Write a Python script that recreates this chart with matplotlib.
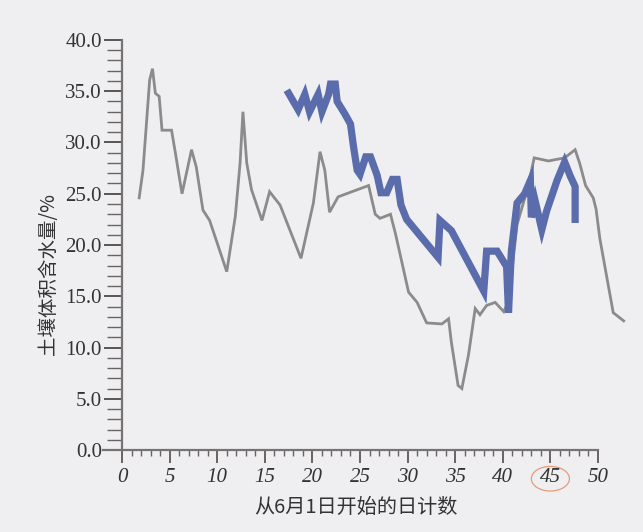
import matplotlib.pyplot as plt
from matplotlib.ticker import FixedLocator
from matplotlib.patches import Ellipse

# days counted from June 1 and soil water content (%)
gray_day = [1.8, 2.2, 2.4, 2.9, 3.2, 3.5, 3.9, 4.2, 5.2, 5.6, 6.3, 7.3, 7.8, 8.5,
            9.2, 11.0, 11.9, 12.4, 12.7, 13.1, 13.6, 14.7, 15.5, 16.6, 18.8, 20.1,
            20.8, 21.3, 21.8, 22.7, 25.9, 26.6, 27.1, 28.2, 28.7, 29.5, 30.1, 31.0,
            32.0, 33.6, 34.3, 34.6, 35.3, 35.7, 36.4, 37.1, 37.6, 38.3, 39.2, 40.1,
            40.6, 41.5, 42.6, 43.3, 44.8, 46.5, 47.6, 48.1, 48.7, 49.5, 49.8, 50.2,
            51.6, 52.7]
gray_val = [24.6, 27.3, 29.8, 36.1, 37.2, 34.8, 34.5, 31.2, 31.2, 29.0, 25.0, 29.3,
            27.6, 23.4, 22.4, 17.4, 22.8, 28.0, 33.0, 28.0, 25.4, 22.4, 25.2, 23.9,
            18.7, 24.1, 29.1, 27.3, 23.2, 24.7, 25.8, 23.0, 22.6, 23.0, 21.2, 17.9,
            15.4, 14.4, 12.4, 12.3, 12.8, 10.5, 6.3, 6.0, 9.3, 13.8, 13.2, 14.1,
            14.4, 13.5, 14.5, 22.0, 25.5, 28.5, 28.2, 28.5, 29.3, 27.9, 25.8, 24.6,
            23.5, 20.6, 13.4, 12.6]

blue_day = [17.5, 18.5, 19.2, 19.7, 20.6, 21.0, 21.7, 21.9, 22.4, 22.6, 23.4, 24.0,
            24.3, 24.7, 25.0, 25.6, 26.1, 26.8, 27.2, 27.8, 28.4, 28.9, 29.3, 29.9,
            33.2, 33.4, 34.6, 38.0, 38.3, 39.4, 40.4, 40.6, 40.9, 41.5, 42.3, 42.9,
            43.0, 43.4, 44.1, 44.6, 45.7, 46.5, 47.1, 47.6, 47.6]
blue_val = [34.8, 33.2, 34.7, 33.0, 34.7, 33.0, 34.7, 35.7, 35.7, 34.0, 32.8, 31.8,
            29.7, 27.3, 26.9, 28.6, 28.6, 26.8, 25.1, 25.1, 26.4, 26.4, 23.9, 22.5,
            18.8, 22.4, 21.4, 15.5, 19.4, 19.4, 17.9, 13.4, 19.4, 24.1, 25.0, 26.3,
            22.7, 24.3, 21.5, 23.3, 26.3, 28.1, 26.7, 25.7, 22.5]

x_ticks = list(range(0, 51, 5))
y_ticks = list(range(0, 41, 5))

bg = '#efeff1'
fig = plt.figure(figsize=(6.43, 5.32), dpi=100, facecolor=bg)
ax = fig.add_axes([0.1602, 0.1541, 0.829, 0.790], facecolor=bg)

ax.plot(gray_day, gray_val, color='#8c8a8a', lw=2.0, solid_joinstyle='miter')
ax.plot(blue_day, blue_val, color='#5a6cab', lw=5.2, solid_joinstyle='miter')

ax.set_xlim(-2, 54)
ax.set_ylim(0, 41)

for s in ['top', 'right']:
    ax.spines[s].set_visible(False)
ax.spines['left'].set_position(('data', 0))
ax.spines['left'].set_bounds(0, 40)
ax.spines['bottom'].set_bounds(-2, 50)
for s in ['left', 'bottom']:
    ax.spines[s].set_color('#777373')
    ax.spines[s].set_linewidth(1.6)

ax.xaxis.set_major_locator(FixedLocator(x_ticks))
ax.xaxis.set_minor_locator(FixedLocator(range(0, 51)))
ax.yaxis.set_major_locator(FixedLocator(y_ticks))
ax.yaxis.set_minor_locator(FixedLocator(range(0, 41)))
ax.set_yticklabels([f'{v:.1f}' for v in y_ticks])
ax.set_xticklabels([str(v) for v in x_ticks])

ax.tick_params(axis='y', which='major', length=13, width=1.4, color='#5a5450', pad=1.5)
ax.tick_params(axis='y', which='minor', length=11, width=1.0, color='#6a6460')
ax.tick_params(axis='x', which='major', length=9, width=1.4, color='#6a6460', pad=4)
ax.tick_params(axis='x', which='minor', length=4, width=1.0, color='#6a6460')

for lab in ax.get_yticklabels():
    lab.set_family('Liberation Serif')
    lab.set_fontsize(15)
    lab.set_color('#333333')
for lab in ax.get_xticklabels():
    lab.set_family('Liberation Serif')
    lab.set_style('italic')
    lab.set_fontsize(15)
    lab.set_color('#333333')

ax.set_xlabel('从6月1日开始的日计数', family=['Noto Sans CJK SC', 'DejaVu Sans'],
              fontsize=14.5, color='#333333')
ax.set_ylabel('土壤体积含水量/%', family=['Noto Sans CJK SC', 'DejaVu Sans'],
              fontsize=14, color='#333333')
ax.xaxis.set_label_coords(0.475, -0.112)
ax.yaxis.set_label_coords(-0.082, 0.42)

# hand-drawn ring around the 45 label
ax.add_patch(Ellipse((45, -2.8), 4.0, 2.4, fill=False, ec='#e69a78', lw=0.9,
                     clip_on=False))

fig.savefig('out.png', dpi=100, facecolor=bg)
